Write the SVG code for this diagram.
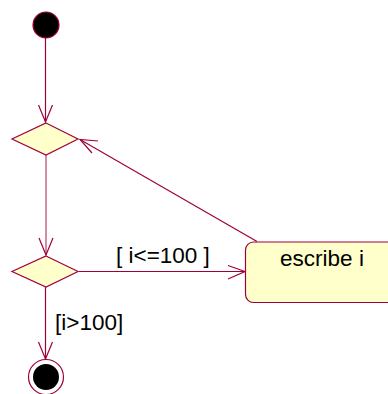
<svg xmlns="http://www.w3.org/2000/svg" width="388" height="394" viewBox="0 0 388 394">
<style>
.ln{fill:none;stroke:#a0003a;stroke-width:1.2}
.nd{fill:#ffffcc;stroke:#a0003a;stroke-width:1.2}
.tx{font-family:"Liberation Sans",Arial,sans-serif;font-size:22.5px;fill:#000}
</style>
<rect width="388" height="394" fill="#fff"/>
<g id="connectors">
<line class="ln" x1="45.5" y1="38" x2="45.5" y2="122"/>
<polyline class="ln" points="38.5,105 45.5,122 52.5,105"/>
<line class="ln" x1="46" y1="155" x2="46" y2="255" stroke-opacity="0.75"/>
<polyline class="ln" points="39,238 46,255 53,238"/>
<line class="ln" x1="45.5" y1="287" x2="45.5" y2="359"/>
<polyline class="ln" points="38.5,342 45.5,359 52.5,342"/>
<line class="ln" x1="79" y1="271.5" x2="245" y2="271.5"/>
<polyline class="ln" points="228,265.5 245,271.5 228,279"/>
<line class="ln" x1="257" y1="241.5" x2="80" y2="139.5"/>
<polyline class="ln" points="98,141 80,139.5 92,153"/>
<text class="tx" x="116" y="263">[ i&lt;=100 ]</text>
<text class="tx" x="55" y="330">[i&gt;100]</text>
</g>
<g id="start"><circle cx="46" cy="25" r="13" fill="#000" stroke="#a0003a" stroke-width="1.2"/></g>
<g id="decision1"><polygon class="nd" points="46,123 78,139 46,155 12,139"/></g>
<g id="decision2"><polygon class="nd" points="46,256 78,271.5 46,287 12,271.5"/></g>
<g id="escribe">
<rect class="nd" x="245.5" y="242" width="160" height="60.5" rx="8"/>
<text class="tx" x="322" y="266" text-anchor="middle">escribe i</text>
</g>
<g id="end">
<circle cx="46" cy="377" r="17.5" fill="#fff" stroke="#a0003a" stroke-width="1.2"/>
<circle cx="46" cy="377" r="13" fill="#000"/>
</g>
</svg>
